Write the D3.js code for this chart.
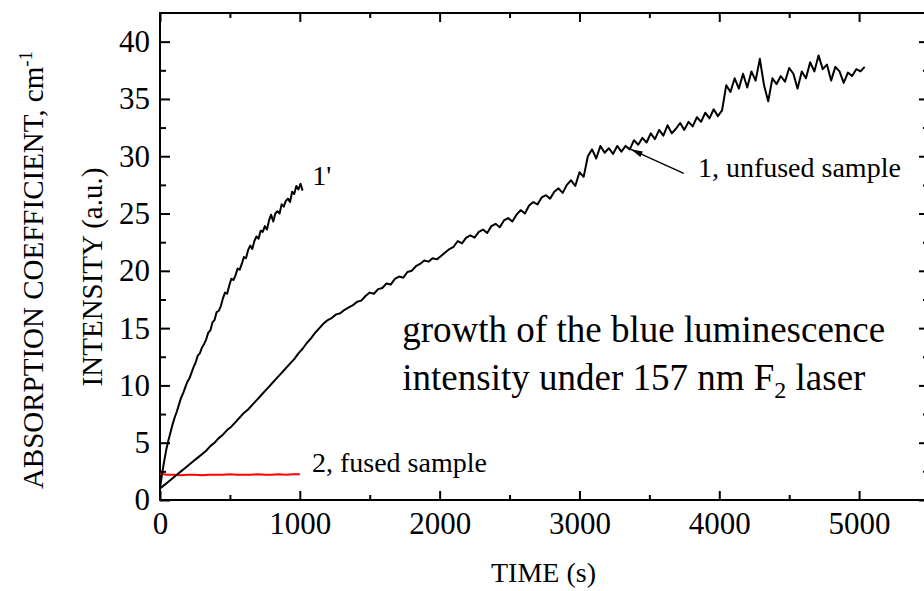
<!DOCTYPE html>
<html>
<head>
<meta charset="utf-8">
<script src="https://cdn.jsdelivr.net/npm/d3@7"></script>
<style>
  body { margin: 0; background: #fff; }
  svg { display: block; }
  text { font-family: "Liberation Serif", "Times New Roman", serif; fill: #000; }
</style>
</head>
<body>
<div id="chart"></div>
<script>
// sampling of the recorded curves (s)
const unfusedStep = 30;
const unfusedValues = [
  1.0, 1.3, 1.6, 1.9, 2.2, 2.5, 2.8, 3.1, 3.4, 3.7,
  4.0, 4.3, 4.7, 5.0, 5.4, 5.7, 6.1, 6.4, 6.8, 7.2,
  7.6, 7.9, 8.3, 8.7, 9.1, 9.5, 9.9, 10.3, 10.7, 11.1,
  11.5, 11.9, 12.3, 12.8, 13.2, 13.7, 14.1, 14.6, 15.0, 15.4,
  15.7, 15.9, 16.2, 16.3, 16.6, 16.8, 17.0, 17.3, 17.4, 17.8,
  18.1, 18.0, 18.4, 18.5, 18.9, 18.8, 19.3, 19.5, 19.4, 19.9,
  20.0, 20.4, 20.6, 20.9, 20.8, 21.1, 21.0, 21.3, 21.6, 21.9,
  22.1, 22.6, 22.4, 22.9, 23.1, 22.9, 23.4, 23.6, 23.3, 23.9,
  24.1, 23.8, 24.4, 24.6, 24.3, 24.9, 25.3, 25.0, 25.7, 26.0,
  25.8, 26.4, 26.6, 26.3, 26.9, 27.2, 26.8, 27.5, 27.9, 27.4,
  28.6, 28.2, 30.0, 30.6, 29.8, 30.9, 30.3, 30.7, 30.2, 30.9,
  30.4, 30.9, 30.6, 31.4, 31.0, 31.6, 31.2, 32.0, 31.5, 32.3,
  31.8, 32.7, 32.0, 32.4, 32.9, 32.3, 33.0, 32.6, 33.4, 33.0,
  33.8, 33.3, 34.1, 33.5, 34.0, 36.2, 35.6, 36.8, 35.9, 37.2,
  36.0, 37.4, 36.6, 38.5, 36.2, 34.8, 36.8, 36.3, 37.0, 36.5,
  37.7, 37.2, 35.9, 37.4, 36.8, 38.2, 37.4, 38.8, 37.6, 38.0,
  36.6, 37.8, 37.4, 36.4, 37.3, 37.0, 37.6, 37.4, 37.8
];

const unfusedLaserStep = 15;
const unfusedLaserValues = [
  1.0, 2.3, 3.4, 4.4, 5.2, 5.9, 6.6, 7.2, 7.7, 8.3,
  8.9, 9.3, 9.8, 10.3, 10.6, 11.1, 11.6, 12.0, 12.6, 12.8,
  13.3, 13.6, 14.0, 14.6, 14.8, 15.5, 15.7, 16.4, 16.5, 16.9,
  17.6, 18.1, 18.0, 18.7, 19.3, 19.2, 19.6, 20.2, 20.1, 20.6,
  21.2, 21.1, 21.8, 22.2, 21.9, 22.6, 23.0, 22.8, 23.5, 23.4,
  23.9, 23.6, 24.4, 24.9, 24.3, 25.0, 25.2, 25.0, 25.8, 25.6,
  26.1, 26.3, 26.0, 26.9, 26.7, 27.4, 27.1, 27.6, 27.0
];

const fusedStep = 50;
const fusedValues = [
  2.3, 2.2, 2.2, 2.15, 2.2, 2.2, 2.15, 2.2, 2.2, 2.2,
  2.25, 2.2, 2.2, 2.2, 2.25, 2.2, 2.2, 2.25, 2.2, 2.25, 2.25
];

const xMajorTicks = [0, 1000, 2000, 3000, 4000, 5000];
const xMinorTicks = [500, 1500, 2500, 3500, 4500];
const yMajorTicks = [0, 5, 10, 15, 20, 25, 30, 35, 40];
const yMinorTicks = [2.5, 7.5, 12.5, 17.5, 22.5, 27.5, 32.5, 37.5];

const width = 924;
const height = 591;

const svg = d3.select('#chart').append('svg')
  .attr('width', width)
  .attr('height', height);

const x = d3.scaleLinear().domain([0, 5500]).range([160, 929]);
const y = d3.scaleLinear().domain([0, 42.5]).range([500, 13]);

const toPoints = (values, step) => values.map((v, i) => [i * step, v]);

// axes: inward ticks on all four sides
function styleAxis(g) {
  g.select('.domain').remove();
  g.selectAll('.tick line').attr('stroke', '#000').attr('stroke-width', 2);
  g.selectAll('.tick text').attr('font-size', 31).attr('fill', '#000')
    .attr('font-family', '"Liberation Serif", "Times New Roman", serif');
}

svg.append('g').attr('transform', `translate(0,${y(0)})`)
  .call(d3.axisBottom(x).tickValues(xMajorTicks).tickSize(-9).tickPadding(12).tickFormat(d3.format('d')))
  .call(styleAxis);
svg.append('g').attr('transform', `translate(0,${y(0)})`)
  .call(d3.axisBottom(x).tickValues(xMinorTicks).tickSize(-5).tickFormat(''))
  .call(styleAxis);
svg.append('g').attr('transform', `translate(0,${y(42.5)})`)
  .call(d3.axisTop(x).tickValues(xMajorTicks).tickSize(-9).tickFormat(''))
  .call(styleAxis);
svg.append('g').attr('transform', `translate(0,${y(42.5)})`)
  .call(d3.axisTop(x).tickValues(xMinorTicks).tickSize(-5).tickFormat(''))
  .call(styleAxis);

svg.append('g').attr('transform', `translate(${x(0)},0)`)
  .call(d3.axisLeft(y).tickValues(yMajorTicks).tickSize(-10).tickPadding(10))
  .call(styleAxis);
svg.append('g').attr('transform', `translate(${x(0)},0)`)
  .call(d3.axisLeft(y).tickValues(yMinorTicks).tickSize(-6).tickFormat(''))
  .call(styleAxis);
svg.append('g').attr('transform', `translate(${x(5500)},0)`)
  .call(d3.axisRight(y).tickValues(yMajorTicks).tickSize(-10).tickFormat(''))
  .call(styleAxis);
svg.append('g').attr('transform', `translate(${x(5500)},0)`)
  .call(d3.axisRight(y).tickValues(yMinorTicks).tickSize(-6).tickFormat(''))
  .call(styleAxis);

// frame
svg.append('rect')
  .attr('x', x(0)).attr('y', y(42.5))
  .attr('width', x(5500) - x(0)).attr('height', y(0) - y(42.5))
  .attr('fill', 'none').attr('stroke', '#000').attr('stroke-width', 2);

// curves
const line = d3.line().x(d => x(d[0])).y(d => y(d[1]));

svg.append('path')
  .attr('d', line(toPoints(fusedValues, fusedStep)))
  .attr('fill', 'none').attr('stroke', '#ff0000').attr('stroke-width', 2);

svg.append('path')
  .attr('d', line(toPoints(unfusedValues, unfusedStep)))
  .attr('fill', 'none').attr('stroke', '#000').attr('stroke-width', 2)
  .attr('stroke-linejoin', 'round');

svg.append('path')
  .attr('d', line(toPoints(unfusedLaserValues, unfusedLaserStep)))
  .attr('fill', 'none').attr('stroke', '#000').attr('stroke-width', 2)
  .attr('stroke-linejoin', 'round');

// labels on the curves
svg.append('text').attr('x', x(1089)).attr('y', y(27.5))
  .attr('font-size', 28).text("1'");

svg.append('text').attr('x', x(1087)).attr('y', y(2.47))
  .attr('font-size', 28).text('2, fused sample');

svg.append('text').attr('x', x(3847)).attr('y', y(28.2))
  .attr('font-size', 28).text('1, unfused sample');

// arrow pointing to curve 1
svg.append('defs').append('marker')
  .attr('id', 'arrow')
  .attr('viewBox', '0 0 12 6')
  .attr('refX', 12).attr('refY', 3)
  .attr('markerWidth', 12).attr('markerHeight', 6)
  .attr('markerUnits', 'userSpaceOnUse')
  .attr('orient', 'auto')
  .append('path').attr('d', 'M0,0 L12,3 L0,6 Z').attr('fill', '#000');

svg.append('line')
  .attr('x1', x(3746)).attr('y1', y(28.5))
  .attr('x2', x(3367)).attr('y2', y(30.6))
  .attr('stroke', '#000').attr('stroke-width', 1.3)
  .attr('marker-end', 'url(#arrow)');

// note
const note = svg.append('g').attr('font-size', 37);
note.append('text').attr('x', x(1733)).attr('y', y(13.8))
  .text('growth of the blue luminescence');
const note2 = note.append('text').attr('x', x(1733)).attr('y', y(9.6));
note2.append('tspan').text('intensity under 157 nm F');
note2.append('tspan').attr('font-size', 24).attr('dy', 8).text('2');
note2.append('tspan').attr('dy', -8).text(' laser');

// axis titles
svg.append('text')
  .attr('x', (x(0) + x(5500)) / 2 - 0).attr('y', 582)
  .attr('text-anchor', 'middle').attr('font-size', 28)
  .attr('transform', 'translate(-1,0)')
  .text('TIME (s)');

svg.append('text')
  .attr('transform', 'translate(102,277) rotate(-90)')
  .attr('text-anchor', 'middle').attr('font-size', 29)
  .text('INTENSITY (a.u.)');

const absTitle = svg.append('text')
  .attr('transform', 'translate(43,270) rotate(-90)')
  .attr('text-anchor', 'middle').attr('font-size', 29);
absTitle.append('tspan').text('ABSORPTION COEFFICIENT, cm');
absTitle.append('tspan').attr('font-size', 19).attr('dy', -11).text('-1');
</script>
</body>
</html>
